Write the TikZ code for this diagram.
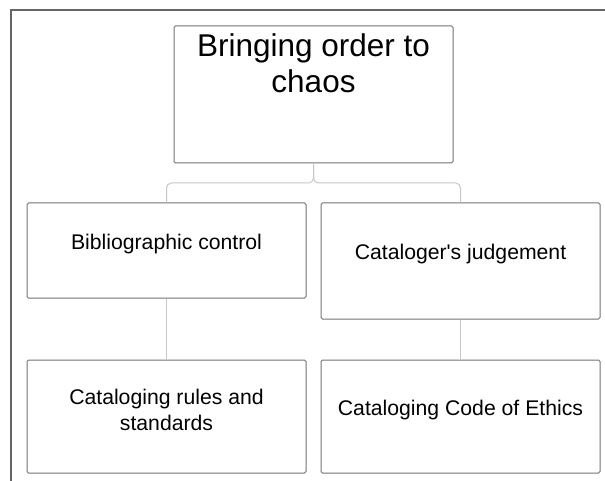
\documentclass[tikz,border=0pt]{standalone}
\usepackage{fontspec}
\setmainfont{Liberation Sans}
\usetikzlibrary{calc}
\tikzset{% styles for the boxes, texts and links
  box/.style={draw=black!55, line width=1pt, rounded corners=1.5pt, fill=white, inner sep=0pt},
  txt/.style={align=center, inner sep=0pt, font=\fontsize{21.2}{26}\selectfont},
  link/.style={draw=black!22, line width=1pt, rounded corners=5pt}
}

\begin{document}
\begin{tikzpicture}[x=1pt, y=-1pt]
\useasboundingbox (0,0) rectangle (605,481);

% frame round the page
\draw [black!60, line width=1.5pt] (605,10) -- (11,10) -- (11,481);

% coordinates to be reused
\coordinate (fork) at (313.5,183);

% boxes
\node [box, minimum width=279pt, minimum height=137pt] (root) at (313.5,94.5) {};
\node [box, minimum width=279pt, minimum height=95pt] (bib) at (166.5,250.5) {};
\node [box, minimum width=279pt, minimum height=116pt] (judge) at (460.5,261) {};
\node [box, minimum width=279pt, minimum height=113pt] (rules) at (166.5,416.5) {};
\node [box, minimum width=279pt, minimum height=113pt] (ethics) at (460.5,416.5) {};

% texts
\node [txt, font=\fontsize{31.5}{36}\selectfont] (roottext) at (313.5,63) {Bringing order to\\chaos};
\node [txt] (bibtext) at (166.5,244) {Bibliographic control};
\node [txt] (judgetext) at (460.5,254) {Cataloger\textquotesingle s judgement};
\node [txt] (rulestext) at (166.5,410) {Cataloging rules and\\standards};
\node [txt] (ethicstext) at (460.5,410) {Cataloging Code of Ethics};

% links
\draw [link] (root.south) -- (fork) -| (bib.north);
\draw [link] (root.south) -- (fork) -| (judge.north);
\draw [link] (bib.south) -- (rules.north);
\draw [link] (judge.south) -- (ethics.north);

\end{tikzpicture}
\end{document}
